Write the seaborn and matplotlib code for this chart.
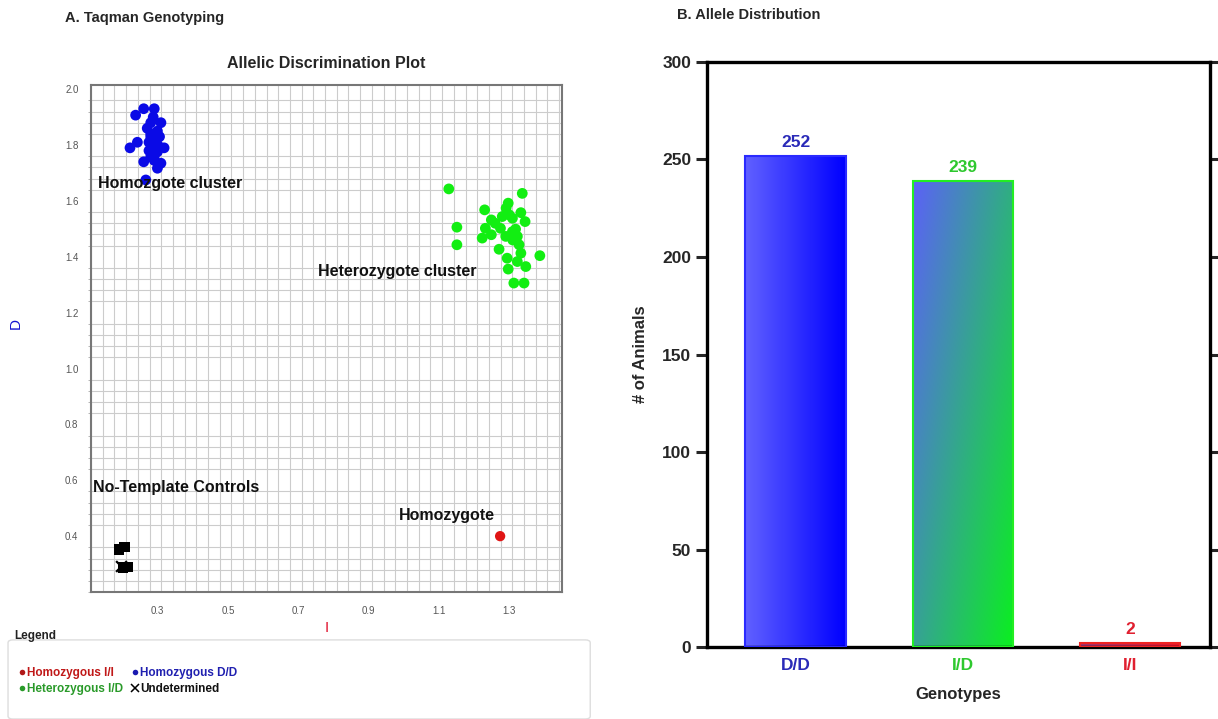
import matplotlib
matplotlib.use("Agg")
import matplotlib.pyplot as plt
from matplotlib.lines import Line2D
from matplotlib.patches import FancyBboxPatch
import numpy as np
import pandas as pd
import seaborn as sns

# ---- allelic discrimination data ----
dd_x = [0.26, 0.29, 0.237, 0.309, 0.28, 0.299, 0.28, 0.294, 0.242, 0.221, 0.318, 0.275, 0.299,
        0.26, 0.309, 0.299, 0.28, 0.266, 0.287, 0.28, 0.27, 0.30, 0.285, 0.29, 0.305, 0.275, 0.29]
dd_y = [1.93, 1.93, 1.907, 1.88, 1.88, 1.85, 1.83, 1.82, 1.81, 1.79, 1.79, 1.78, 1.776,
        1.74, 1.735, 1.717, 1.758, 1.675, 1.90, 1.84, 1.86, 1.80, 1.795, 1.76, 1.83, 1.81, 1.745]

id_x = [1.128, 1.337, 1.297, 1.23, 1.291, 1.333, 1.249, 1.28, 1.309, 1.345, 1.151, 1.232, 1.275,
        1.318, 1.249, 1.29, 1.323, 1.223, 1.151, 1.271, 1.328, 1.333, 1.294, 1.387, 1.323, 1.347,
        1.297, 1.313, 1.342, 1.309, 1.30, 1.26, 1.31]
id_y = [1.643, 1.627, 1.592, 1.568, 1.574, 1.558, 1.532, 1.544, 1.538, 1.526, 1.506, 1.502, 1.502,
        1.499, 1.479, 1.473, 1.473, 1.467, 1.443, 1.427, 1.443, 1.413, 1.395, 1.404, 1.383, 1.365,
        1.356, 1.306, 1.306, 1.49, 1.55, 1.52, 1.46]

ii_x = [1.274]
ii_y = [0.40]

ntc_x = [0.19, 0.205, 0.202, 0.214]
ntc_y = [0.352, 0.362, 0.288, 0.29]
undet_x = [0.196]
undet_y = [0.293]

# ---- allele distribution data ----
genotypes = ["D/D", "I/D", "I/I"]
counts = [252, 239, 2]
geno_colors = ["#2a2ab8", "#2ec82e", "#e02030"]
edge_colors = ["#2a2aff", "#22ee22", "#ee2222"]

sns.set_style("white")
plt.rcParams["font.family"] = ["Liberation Sans", "DejaVu Sans"]

fig = plt.figure(figsize=(12.18, 7.19), dpi=100)

# ================= panel A =================
ax1 = fig.add_axes([0.0747, 0.1766, 0.3867, 0.7052])
sns.scatterplot(x=dd_x, y=dd_y, ax=ax1, color="#0a0ae6", s=60, edgecolor="none", zorder=3)
sns.scatterplot(x=id_x, y=id_y, ax=ax1, color="#12ee12", s=60, edgecolor="none", zorder=3)
sns.scatterplot(x=ii_x, y=ii_y, ax=ax1, color="#e01515", s=55, edgecolor="none", zorder=3)
sns.scatterplot(x=ntc_x, y=ntc_y, ax=ax1, color="black", marker="s", s=55, edgecolor="none", zorder=3)
sns.scatterplot(x=undet_x, y=undet_y, ax=ax1, color="black", marker="x", s=60, linewidth=1.6, zorder=4)

ax1.set_xlim(0.11, 1.45)
ax1.set_ylim(0.2, 2.015)
ax1.set_xticks(np.arange(0.3, 1.31, 0.2))
ax1.set_yticks(np.arange(0.4, 2.01, 0.2))
ax1.set_xticklabels([f"{v:.1f}" for v in np.arange(0.3, 1.31, 0.2)])
ax1.set_yticklabels([f"{v:.1f}" for v in np.arange(0.4, 2.01, 0.2)])
ax1.set_xticks(np.arange(0.11, 1.45, 0.0333), minor=True)
ax1.set_yticks(np.arange(0.2, 2.015, 0.04), minor=True)
ax1.grid(which="minor", color="#cccccc", linewidth=0.8)
ax1.grid(which="major", visible=False)
ax1.tick_params(axis="both", which="major", labelsize=7, labelcolor="#555555",
                length=3, color="#888888")
ax1.tick_params(axis="x", which="major", pad=7)
ax1.tick_params(axis="y", which="major", pad=6)
ax1.tick_params(axis="y", which="minor", left=True, length=2, color="#aaaaaa")
for sp in ax1.spines.values():
    sp.set_color("#777777")
    sp.set_linewidth(1.5)
ax1.set_title("Allelic Discrimination Plot", fontsize=11.5, fontweight="bold", pad=12)
ax1.set_xlabel("I", color="#e01530", fontsize=11, labelpad=4)
ax1.set_ylabel("D", color="#1515d0", fontsize=11)
ax1.yaxis.set_label_coords(-0.145, 0.53)

lab_kw = dict(fontsize=11.5, fontweight="bold", color="#111111", va="center", ha="left", zorder=5)
ax1.text(0.129, 1.664, "Homozgote cluster", **lab_kw)
ax1.text(0.757, 1.346, "Heterozygote cluster", **lab_kw)
ax1.text(0.117, 0.575, "No-Template Controls", **lab_kw)
ax1.text(0.986, 0.475, "Homozygote", **lab_kw)

fig.text(0.053, 0.975, "A. Taqman Genotyping", fontsize=10.5, fontweight="bold", va="center")

# legend box
fig.patches.append(FancyBboxPatch((0.0066, 0.0), 0.478, 0.11, boxstyle="round,pad=0,rounding_size=0.004",
                                  transform=fig.transFigure, facecolor="white",
                                  edgecolor="#dddddd", linewidth=1.0))
fig.text(0.0115, 0.115, "Legend", fontsize=8.5, fontweight="bold", color="#222222", va="center")
handles = [
    Line2D([], [], marker="o", color="none", markerfacecolor="#b01818", markeredgecolor="none", markersize=4),
    Line2D([], [], marker="o", color="none", markerfacecolor="#2a9a2a", markeredgecolor="none", markersize=4),
    Line2D([], [], marker="o", color="none", markerfacecolor="#1a1ab0", markeredgecolor="none", markersize=4),
    Line2D([], [], marker="x", color="none", markeredgecolor="black", markersize=6, markeredgewidth=1.1),
]
labels = ["Homozygous I/I", "Heterozygous I/D", "Homozygous D/D", "Undetermined"]
fig.legend(handles, labels, loc="upper left", bbox_to_anchor=(0.01, 0.08), ncol=2,
           frameon=False, handlelength=0.6, handletextpad=0.15, columnspacing=0.7,
           labelspacing=0.3, borderpad=0.0, prop=dict(size=8.5, weight="bold"),
           labelcolor=["#c01818", "#2a9a2a", "#2020b0", "#111111"])

# ================= panel B =================
ax2 = fig.add_axes([0.5805, 0.1001, 0.4129, 0.8137])
sns.barplot(x=genotypes, y=counts, ax=ax2, width=0.6, color="white", saturation=1)

grads = [
    (np.array([0.38, 0.38, 1.0]), np.array([0.0, 0.0, 1.0]), "h"),
    (np.array([0.36, 0.38, 0.97]), np.array([0.04, 0.94, 0.12]), "d"),
    (np.array([0.62, 0.2, 0.45]), np.array([0.92, 0.08, 0.15]), "h"),
]
# row 0 of the image sits at the top of the bar (origin="upper")
xx, yy = np.meshgrid(np.linspace(0, 1, 200), np.linspace(0, 1, 200))
for patch, (c0, c1, mode), ec in zip(ax2.patches, grads, edge_colors):
    x0, y0 = patch.get_x(), patch.get_y()
    w, h = patch.get_width(), patch.get_height()
    t = xx if mode == "h" else np.clip(0.55 * xx + 0.45 * yy, 0, 1)
    img = c0[None, None, :] * (1 - t[..., None]) + c1[None, None, :] * t[..., None]
    im = ax2.imshow(img, extent=(x0, x0 + w, y0, y0 + h), origin="upper",
                    aspect="auto", zorder=2, interpolation="bilinear")
    im.set_clip_path(patch)
    patch.set_facecolor("none")
    patch.set_edgecolor(ec)
    patch.set_linewidth(1.5)
    patch.set_zorder(3)

for i, (v, c) in enumerate(zip(counts, geno_colors)):
    ax2.text(i, v + 3, str(v), ha="center", va="bottom", fontsize=12.5,
             fontweight="bold", color=c)

ax2.set_xlim(-0.53, 2.48)
ax2.set_ylim(0, 300)
ax2.set_yticks(range(0, 301, 50))
ax2.tick_params(axis="y", which="major", direction="out", length=8, width=2.2,
                labelsize=12.5, right=True, left=True)
ax2.tick_params(axis="x", length=0, labelsize=12.5, pad=8)
for lab in ax2.get_yticklabels():
    lab.set_fontweight("bold")
for lab, c in zip(ax2.get_xticklabels(), geno_colors):
    lab.set_color(c)
    lab.set_fontweight("bold")
for sp in ax2.spines.values():
    sp.set_visible(True)
    sp.set_color("black")
    sp.set_linewidth(2.4)
ax2.set_xlabel("Genotypes", fontsize=12, fontweight="bold", labelpad=10)
ax2.set_ylabel("# of Animals", fontsize=12, fontweight="bold", labelpad=10)

fig.text(0.556, 0.979, "B. Allele Distribution", fontsize=10.5, fontweight="bold", va="center")

fig.savefig("out.png", dpi=100)
